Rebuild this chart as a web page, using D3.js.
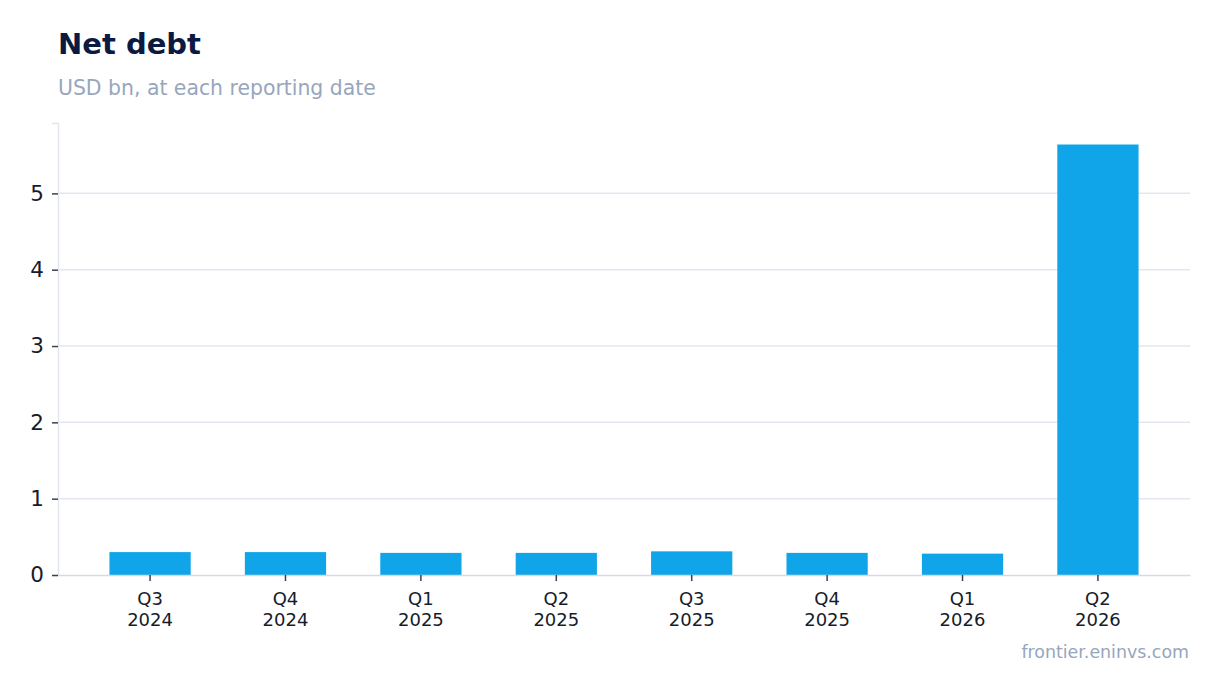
<!DOCTYPE html>
<html>
<head>
<meta charset="utf-8">
<script src="https://cdn.jsdelivr.net/npm/d3@7"></script>
<style>
  body { margin: 0; background: #fff; font-family: "DejaVu Sans", sans-serif; }
</style>
</head>
<body>
<div id="chart"></div>
<script>
var quarters = ["Q3", "Q4", "Q1", "Q2", "Q3", "Q4", "Q1", "Q2"];
var years = ["2024", "2024", "2025", "2025", "2025", "2025", "2026", "2026"];
var netDebt = [0.30, 0.30, 0.29, 0.29, 0.31, 0.29, 0.28, 5.64];
var yTicks = [0, 1, 2, 3, 4, 5];

var svgWidth = 1220;
var svgHeight = 693;
var margin = {top: 123, right: 30, bottom: 118, left: 58};
var width = svgWidth - margin.left - margin.right;
var height = svgHeight - margin.top - margin.bottom;

var svg = d3.select("#chart")
  .append("svg")
  .attr("width", svgWidth)
  .attr("height", svgHeight);

svg.append("text")
  .attr("x", 58).attr("y", 54)
  .attr("font-size", "29px").attr("font-weight", "bold")
  .attr("fill", "#0b1a40")
  .text("Net debt");

svg.append("text")
  .attr("x", 58).attr("y", 95)
  .attr("font-size", "20.4px")
  .attr("fill", "#97a6bd")
  .text("USD bn, at each reporting date");

svg.append("text")
  .attr("x", 1189).attr("y", 658)
  .attr("text-anchor", "end")
  .attr("font-size", "17.4px")
  .attr("fill", "#97a6bd")
  .text("frontier.eninvs.com");

var chart = svg.append("g")
  .attr("transform", "translate(" + margin.left + "," + margin.top + ")");

var keys = d3.range(netDebt.length);

var x = d3.scaleBand()
  .domain(keys)
  .range([0, width])
  .paddingInner(0.4)
  .paddingOuter(0.38);

var y = d3.scaleLinear()
  .domain([0, d3.max(netDebt) * 1.05])
  .range([height, 0]);

// gridlines
chart.append("g")
  .selectAll("line")
  .data(yTicks.filter(function(d) { return d > 0; }))
  .enter()
  .append("line")
  .attr("x1", 0).attr("x2", width)
  .attr("y1", function(d) { return y(d); })
  .attr("y2", function(d) { return y(d); })
  .attr("stroke", "#e2e7ef")
  .attr("stroke-width", 1.5);

// bars
chart.selectAll("rect")
  .data(netDebt)
  .enter()
  .append("rect")
  .attr("x", function(d, i) { return x(i); })
  .attr("y", function(d) { return y(d); })
  .attr("width", x.bandwidth())
  .attr("height", function(d) { return height - y(d); })
  .attr("fill", "#10a5e8");

// y axis
var yAxis = chart.append("g")
  .call(d3.axisLeft(y).tickValues(yTicks).tickSize(6).tickPadding(8).tickFormat(d3.format("d")));
yAxis.select(".domain").attr("stroke", "#e2e7ef").attr("stroke-width", 1.5);
yAxis.selectAll(".tick line").attr("stroke", "#3a4252").attr("stroke-width", 1.5);
yAxis.selectAll(".tick text")
  .attr("font-family", "DejaVu Sans")
  .attr("font-size", "21.5px")
  .attr("fill", "#161c2c");

// x axis
var xAxis = chart.append("g")
  .attr("transform", "translate(0," + height + ")")
  .call(d3.axisBottom(x).tickSize(6).tickSizeOuter(0).tickFormat(""));
xAxis.select(".domain").attr("stroke", "#d5dae6").attr("stroke-width", 1.5);
xAxis.selectAll(".tick line").attr("stroke", "#3a4252").attr("stroke-width", 1.5);

var labels = xAxis.selectAll(".tick text")
  .attr("font-family", "DejaVu Sans")
  .attr("font-size", "18px")
  .attr("fill", "#161c2c")
  .attr("y", 0)
  .attr("dy", null);

labels.each(function(d) {
  var t = d3.select(this);
  t.append("tspan").attr("x", 0).attr("y", 30).text(quarters[d]);
  t.append("tspan").attr("x", 0).attr("y", 51).text(years[d]);
});
</script>
</body>
</html>
